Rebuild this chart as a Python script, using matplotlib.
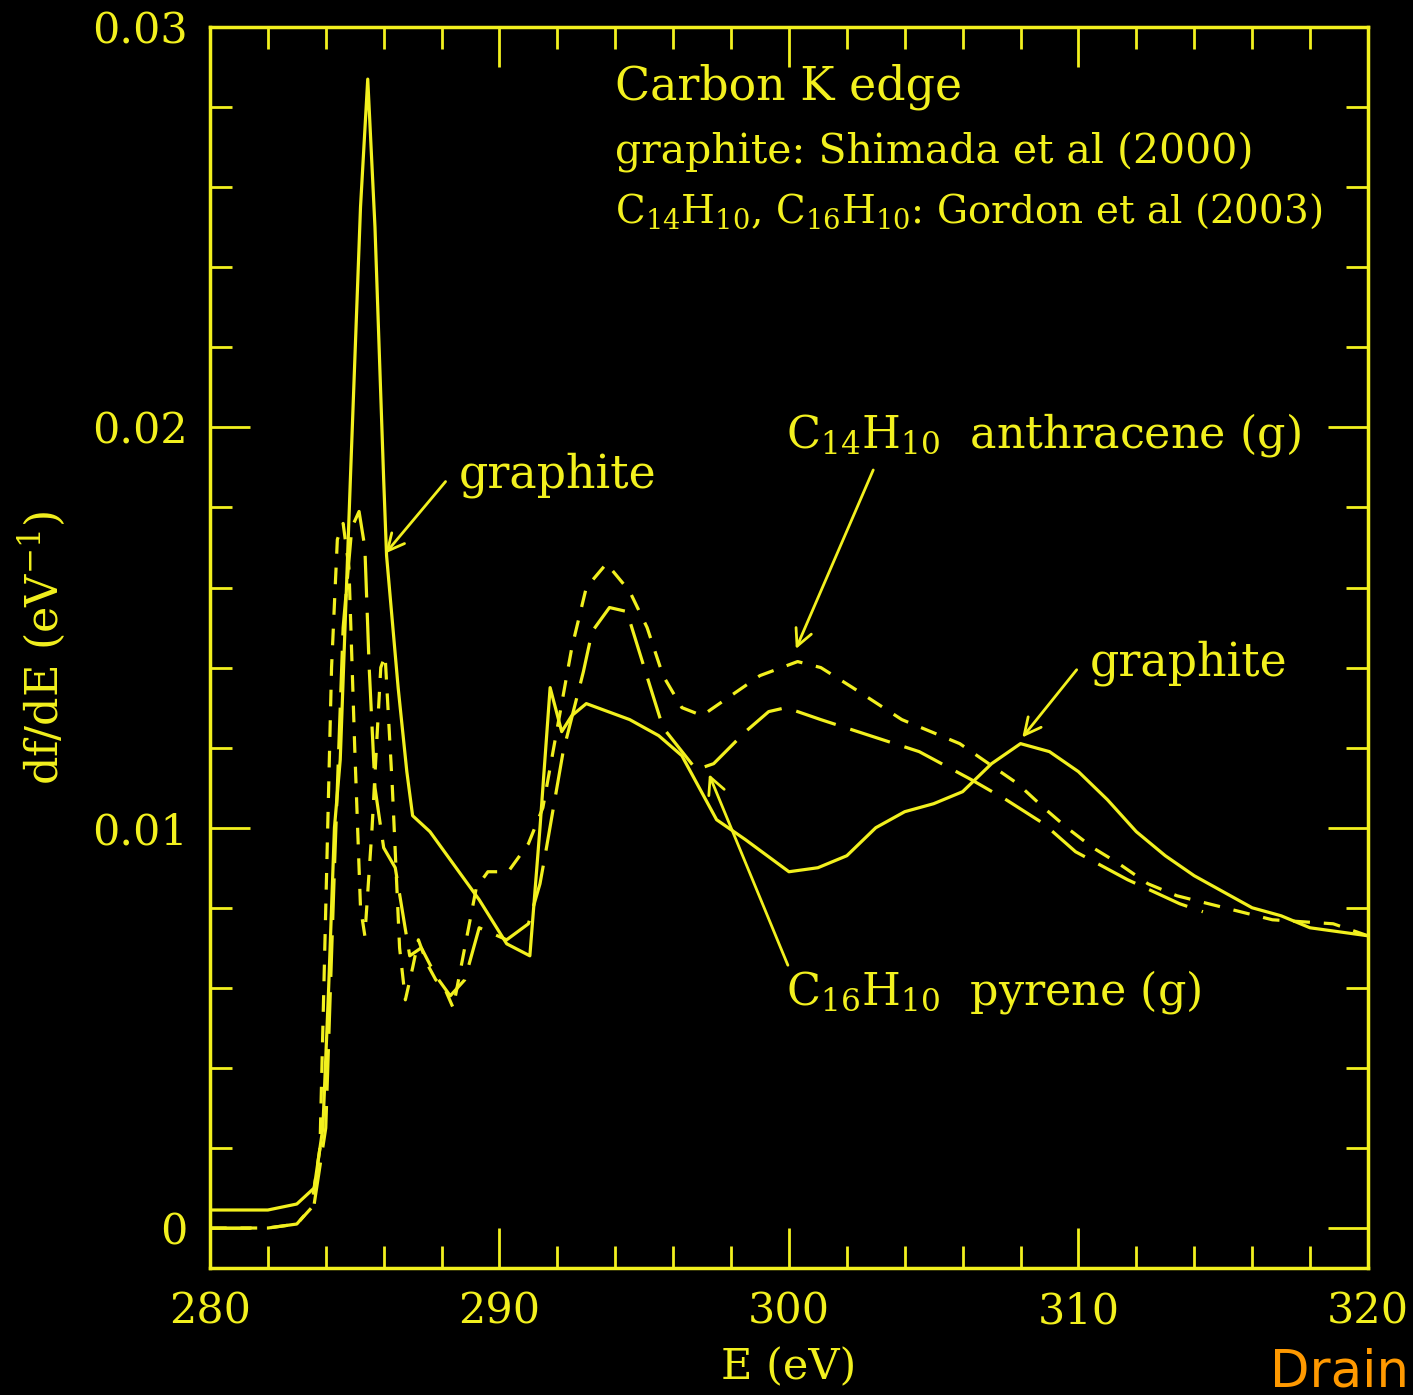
import numpy as np
import matplotlib
matplotlib.use('Agg')
import matplotlib.pyplot as plt

plt.rcParams['font.family'] = ['DejaVu Serif']
plt.rcParams['mathtext.fontset'] = 'dejavuserif'
plt.rcParams['lines.scale_dashes'] = False

# graphite (solid)
e_gr = [280, 282, 283, 283.6, 283.9, 284.1, 284.3, 284.5, 284.85, 285.2, 285.45,
        285.7, 286.0, 286.1, 286.5, 286.8, 287.0, 287.6, 288.5, 289.3, 290.25,
        291.05, 291.4, 291.75, 292.15, 292.5, 293.0, 294.5, 295.5, 296.3, 297.5,
        298.5, 300.0, 301.0, 302.0, 303.0, 304.0, 305.0, 306.0, 307.0, 308.0,
        309.0, 310.0, 311.0, 312.0, 313.0, 314.0, 315.0, 316.0, 317.0, 318.0,
        319.0, 320.0]
f_gr = [0.00045, 0.00045, 0.0006, 0.0010, 0.0025, 0.006, 0.0100, 0.0117, 0.0187,
        0.0255, 0.0287, 0.0250, 0.0187, 0.0168, 0.0135, 0.0114, 0.0103, 0.0099,
        0.0090, 0.0082, 0.0071, 0.0068, 0.0100, 0.0135, 0.0124, 0.0128, 0.0131,
        0.0127, 0.0123, 0.0118, 0.0102, 0.0097, 0.0089, 0.0090, 0.0093, 0.0100,
        0.0104, 0.0106, 0.0109, 0.0116, 0.0121, 0.0119, 0.0114, 0.0107, 0.0099,
        0.0093, 0.0088, 0.0084, 0.0080, 0.0078, 0.0075, 0.0074, 0.0073]

# C14H10 anthracene (short dashes)
e_an = [280, 282, 283, 283.5, 283.8, 284.0, 284.2, 284.4, 284.6, 284.8, 285.0,
        285.2, 285.35, 285.6, 285.9, 286.05, 286.3, 286.55, 286.75, 287.0, 287.2,
        287.5, 287.8, 288.1, 288.4, 288.8, 289.2, 289.6, 290.3, 291.0, 291.5,
        292.0, 292.5, 293.0, 293.7, 294.5, 295.1, 295.65, 296.3, 297.0, 297.8,
        299.0, 300.3, 301.1, 302.2, 303.9, 305.9, 307.9, 308.8, 309.6, 310.5,
        311.4, 312.4, 313.4, 314.5, 315.6, 316.7, 318.8, 320.0]
f_an = [0.0, 0.0, 0.0001, 0.0005, 0.002, 0.008, 0.0140, 0.0172, 0.0176, 0.0165,
        0.0120, 0.0080, 0.0073, 0.0100, 0.0140, 0.0143, 0.0110, 0.0070, 0.0057,
        0.0065, 0.0072, 0.0066, 0.0062, 0.0060, 0.0055, 0.0070, 0.0085, 0.0089,
        0.0089, 0.0096, 0.0105, 0.0125, 0.0145, 0.0160, 0.0166, 0.0159, 0.0150,
        0.0138, 0.0130, 0.0128, 0.0132, 0.0138, 0.01415, 0.0140, 0.0135, 0.0127,
        0.0121, 0.0111, 0.0105, 0.0100, 0.0095, 0.0091, 0.0086, 0.0083, 0.0081,
        0.0079, 0.0077, 0.0076, 0.0073]

# C16H10 pyrene (long dashes)
e_py = [280, 282, 283, 283.6, 284.0, 284.3, 284.6, 284.9, 285.15, 285.35, 285.5,
        285.7, 286.0, 286.4, 286.9, 287.3, 287.8, 288.3, 288.8, 289.3, 290.25,
        291.0, 291.4, 291.6, 292.2, 292.9, 293.2, 293.8, 294.4, 295.0, 295.65,
        296.8, 297.4, 298.5, 299.3, 299.9, 301.1, 302.8, 304.5, 306.3, 307.5,
        308.8, 309.9, 311.7, 313.5, 314.3]
f_py = [0.0, 0.0, 0.0001, 0.0006, 0.0025, 0.009, 0.0150, 0.0175, 0.0179, 0.0170,
        0.0140, 0.0110, 0.0095, 0.0090, 0.0068, 0.0070, 0.0063, 0.0058, 0.0062,
        0.0075, 0.0072, 0.0076, 0.0086, 0.0094, 0.0119, 0.0139, 0.0149, 0.0155,
        0.0154, 0.0140, 0.0125, 0.01145, 0.0116, 0.0124, 0.0129, 0.0130, 0.0127,
        0.0123, 0.0119, 0.0112, 0.0107, 0.0101, 0.0094, 0.0087, 0.0081, 0.0079]

yel = '#f2f01e'
fig = plt.figure(figsize=(14.13, 13.95), dpi=100, facecolor='black')
ax = fig.add_axes([0.1486, 0.091, 0.8195, 0.8896], facecolor='black')

lw = 2.3
ax.plot(e_gr, f_gr, color=yel, lw=lw)
ax.plot(e_an, f_an, color=yel, lw=lw, dashes=(12, 10))
ax.plot(e_py, f_py, color=yel, lw=lw, dashes=(30, 11))

ax.set_xlim(280, 320)
ax.set_ylim(-0.001, 0.03)
ax.set_xticks([280, 290, 300, 310, 320])
ax.set_xticklabels(['280', '290', '300', '310', '320'])
ax.set_xticks(np.arange(282, 320, 2), minor=True)
ax.set_yticks([0, 0.01, 0.02, 0.03])
ax.set_yticklabels(['0', '0.01', '0.02', '0.03'])
ax.set_yticks(np.arange(0.002, 0.03, 0.002), minor=True)
for s in ax.spines.values():
    s.set_color(yel)
    s.set_linewidth(2.5)
ax.tick_params(which='both', direction='in', top=True, right=True, colors=yel,
               width=2, labelsize=31)
ax.tick_params(which='major', length=29)
ax.tick_params(which='minor', length=16)
ax.tick_params(axis='x', which='major', pad=16)
ax.tick_params(axis='y', which='major', pad=16)

ax.set_xlabel('E (eV)', color=yel, fontsize=31, labelpad=10)
ax.set_ylabel('df/dE (eV$^{-1}$)', color=yel, fontsize=32, labelpad=18)

ax.text(294.0, 0.0285, 'Carbon K edge', color=yel, fontsize=33, va='center')
ax.text(294.0, 0.0269, 'graphite: Shimada et al (2000)', color=yel, fontsize=29.5, va='center')
ax.text(294.0, 0.0254, r'C$_{14}$H$_{10}$, C$_{16}$H$_{10}$: Gordon et al (2003)',
        color=yel, fontsize=28, va='center')

arr = dict(arrowstyle='->', color=yel, lw=2, mutation_scale=30)
ax.text(288.6, 0.0188, 'graphite', color=yel, fontsize=33, va='center')
ax.annotate('', xy=(286.0, 0.0168), xytext=(288.2, 0.0187), arrowprops=arr)
ax.text(299.9, 0.0198, r'C$_{14}$H$_{10}$  anthracene (g)', color=yel,
        fontsize=32, va='center')
ax.annotate('', xy=(300.2, 0.0144), xytext=(302.95, 0.0190), arrowprops=arr)
ax.text(310.4, 0.0141, 'graphite', color=yel, fontsize=33, va='center')
ax.annotate('', xy=(308.0, 0.0122), xytext=(310.0, 0.0140), arrowprops=arr)
ax.text(299.9, 0.0059, r'C$_{16}$H$_{10}$  pyrene (g)', color=yel, fontsize=32, va='center')
ax.annotate('', xy=(297.2, 0.0114), xytext=(300.0, 0.0065), arrowprops=arr)

fig.text(0.997, 0.006, 'Drain', color='#ff9900', fontsize=37, ha='right',
         family='DejaVu Sans')

fig.savefig('out.png', dpi=100, facecolor='black')
